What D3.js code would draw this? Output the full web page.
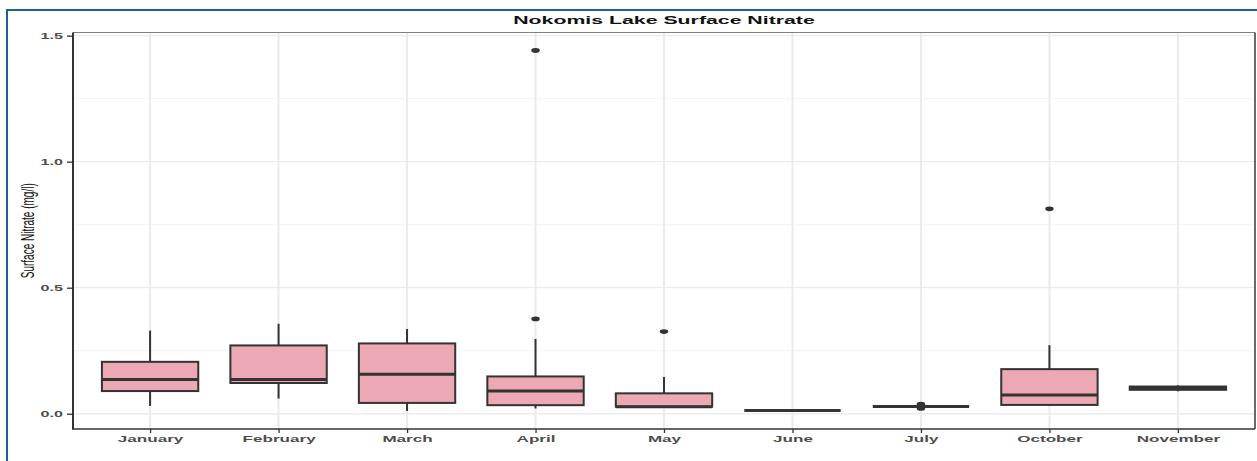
<!DOCTYPE html>
<html>
<head>
<meta charset="utf-8">
<script src="https://cdn.jsdelivr.net/npm/d3@7"></script>
<style>
  html, body { margin: 0; padding: 0; background: #fff; }
  svg { display: block; }
  text { font-family: "Liberation Sans", Arial, sans-serif; }
</style>
</head>
<body>
<svg id="chart" width="1257" height="461"></svg>
<script>
// Monthly surface nitrate box statistics (mg/l)
const months = ["January", "February", "March", "April", "May", "June", "July", "October", "November"];
const lowerWhisker = [0.031, 0.060, 0.011, 0.021, 0.028, 0.013, 0.029, 0.032, 0.089];
const q1           = [0.090, 0.122, 0.043, 0.034, 0.028, 0.013, 0.029, 0.035, 0.095];
const median       = [0.136, 0.136, 0.157, 0.090, 0.028, 0.013, 0.029, 0.074, 0.102];
const q3           = [0.206, 0.271, 0.279, 0.148, 0.081, 0.013, 0.029, 0.177, 0.108];
const upperWhisker = [0.330, 0.357, 0.336, 0.297, 0.146, 0.013, 0.029, 0.272, 0.113];
const outliers     = [[], [], [], [0.376, 1.441], [0.326], [], [0.038, 0.021], [0.813], []];
const yTickValues  = [0, 0.5, 1.0, 1.5];
const yTickLabels  = ["0.0", "0.5", "1.0", "1.5"];
const yMinorValues = [0.25, 0.75, 1.25];
const chartTitle = "Nokomis Lake Surface Nitrate";
const yTitle = "Surface Nitrate (mg/l)";

const svg = d3.select("#chart");
const W = 1257, H = 461;
const panel = { left: 73, right: 1255, top: 32.5, bottom: 429 };
const SX = 1.9; // horizontal text stretch

// outer frame
svg.append("rect")
  .attr("x", 7).attr("y", 10)
  .attr("width", W + 20).attr("height", H + 20)
  .attr("fill", "none").attr("stroke", "#1f5e99").attr("stroke-width", 2);

// y domain: data range expanded by 5% on both sides
const allVals = lowerWhisker.concat(upperWhisker, outliers.flat());
const lo = d3.min(allVals), hi = d3.max(allVals);
const pad = (hi - lo) * 0.05;
const y = d3.scaleLinear().domain([lo - pad, hi + pad]).range([panel.bottom, panel.top]);
const x = d3.scalePoint().domain(months).range([panel.left, panel.right]).padding(0.6);
const boxW = x.step() * 0.75;

const g = svg.append("g");

// grid
g.selectAll("line.minor").data(yMinorValues).join("line")
  .attr("x1", panel.left).attr("x2", panel.right)
  .attr("y1", d => y(d)).attr("y2", d => y(d))
  .attr("stroke", "#f2f2f2").attr("stroke-width", 1);
g.selectAll("line.major").data(yTickValues).join("line")
  .attr("x1", panel.left).attr("x2", panel.right)
  .attr("y1", d => y(d)).attr("y2", d => y(d))
  .attr("stroke", "#ebebeb").attr("stroke-width", 1.3);
g.selectAll("line.vgrid").data(months).join("line")
  .attr("x1", d => x(d)).attr("x2", d => x(d))
  .attr("y1", panel.top).attr("y2", panel.bottom)
  .attr("stroke", "#ebebeb").attr("stroke-width", 2);

// panel border (top/right)
g.append("line").attr("x1", panel.left).attr("x2", panel.right)
  .attr("y1", panel.top).attr("y2", panel.top)
  .attr("stroke", "#808080").attr("stroke-width", 1.2);
g.append("line").attr("x1", panel.right).attr("x2", panel.right)
  .attr("y1", panel.top).attr("y2", panel.bottom)
  .attr("stroke", "#444").attr("stroke-width", 1.6);

// boxes
const data = months.map((m, i) => ({
  m, lw: lowerWhisker[i], q1: q1[i], med: median[i], q3: q3[i], uw: upperWhisker[i], out: outliers[i]
}));
const boxG = g.selectAll("g.box").data(data).join("g");
boxG.append("line")
  .attr("x1", d => x(d.m)).attr("x2", d => x(d.m))
  .attr("y1", d => y(d.q3)).attr("y2", d => y(d.uw))
  .attr("stroke", "#333").attr("stroke-width", 2);
boxG.append("line")
  .attr("x1", d => x(d.m)).attr("x2", d => x(d.m))
  .attr("y1", d => y(d.q1)).attr("y2", d => y(d.lw))
  .attr("stroke", "#333").attr("stroke-width", 2);
boxG.append("rect")
  .attr("x", d => x(d.m) - boxW / 2).attr("width", boxW)
  .attr("y", d => y(d.q3)).attr("height", d => y(d.q1) - y(d.q3))
  .attr("fill", "#eca8b5").attr("stroke", "#333").attr("stroke-width", 2);
boxG.append("line")
  .attr("x1", d => x(d.m) - boxW / 2).attr("x2", d => x(d.m) + boxW / 2)
  .attr("y1", d => y(d.med)).attr("y2", d => y(d.med))
  .attr("stroke", "#333").attr("stroke-width", 3);
boxG.selectAll("ellipse").data(d => d.out.map(v => ({ m: d.m, v }))).join("ellipse")
  .attr("cx", d => x(d.m)).attr("cy", d => y(d.v))
  .attr("rx", 4.2).attr("ry", 2.4).attr("fill", "#333");

// axes
const yAxis = d3.axisLeft(y).tickValues(yTickValues).tickFormat((d, i) => yTickLabels[i]).tickSize(6).tickPadding(3);
const yg = svg.append("g").attr("transform", `translate(${panel.left},0)`).call(yAxis);
yg.select(".domain").remove();
yg.selectAll(".tick line").attr("stroke", "#333").attr("stroke-width", 1.3);
yg.selectAll(".tick text").remove();
yg.selectAll(".tick").append("text")
  .attr("text-anchor", "end")
  .attr("dy", "0.34em")
  .attr("transform", `translate(-10,0) scale(${SX},1)`)
  .attr("fill", "#4d4d4d").attr("font-weight", "bold").attr("font-size", 8.5)
  .text((d, i) => yTickLabels[i]);

const xAxis = d3.axisBottom(x).tickSize(4);
const xg = svg.append("g").attr("transform", `translate(0,${panel.bottom})`).call(xAxis);
xg.select(".domain").remove();
xg.selectAll(".tick line").attr("stroke", "#333").attr("stroke-width", 1.3);
xg.selectAll(".tick text").remove();
xg.selectAll(".tick").append("text")
  .attr("text-anchor", "middle")
  .attr("transform", `translate(0,13) scale(${SX},1)`)
  .attr("fill", "#4d4d4d").attr("font-weight", "bold").attr("font-size", 9)
  .text(d => d);

// axis lines
svg.append("line").attr("x1", panel.left).attr("x2", panel.left)
  .attr("y1", panel.top).attr("y2", panel.bottom + 0.8)
  .attr("stroke", "#333").attr("stroke-width", 2);
svg.append("line").attr("x1", panel.left).attr("x2", panel.right)
  .attr("y1", panel.bottom).attr("y2", panel.bottom)
  .attr("stroke", "#333").attr("stroke-width", 1.6);

// titles
svg.append("text")
  .attr("text-anchor", "middle")
  .attr("transform", `translate(${(panel.left + panel.right) / 2},24) scale(${SX},1)`)
  .attr("font-weight", "bold").attr("font-size", 11.2).attr("fill", "#111")
  .text(chartTitle);
svg.append("text")
  .attr("text-anchor", "middle")
  .attr("transform", `translate(34,${(panel.top + panel.bottom) / 2}) scale(${SX},1) rotate(-90)`)
  .attr("font-size", 10).attr("fill", "#111")
  .text(yTitle);
</script>
</body>
</html>
